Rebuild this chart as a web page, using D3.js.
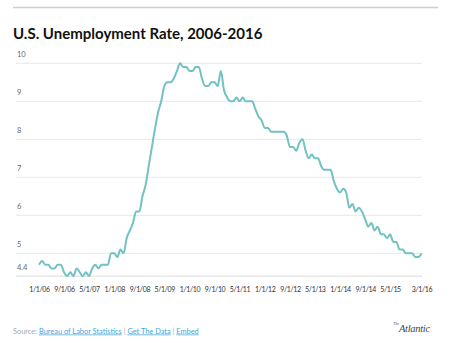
<!DOCTYPE html>
<html>
<head>
<meta charset="utf-8">
<script src="https://cdn.jsdelivr.net/npm/d3@7"></script>
<style>
  html, body { margin: 0; padding: 0; background: #fff; }
  svg { display: block; }
</style>
</head>
<body>
<svg id="chart" width="450" height="343"></svg>
<script>
// Monthly U.S. unemployment rate (seasonally adjusted), Jan 2006 – Mar 2016
const startMonth = "2006-01-01";
const rates = [
  4.7, 4.8, 4.7, 4.7, 4.6, 4.6, 4.7, 4.7, 4.5, 4.4, 4.5, 4.4,
  4.6, 4.5, 4.4, 4.5, 4.4, 4.6, 4.7, 4.6, 4.7, 4.7, 4.7, 5.0,
  5.0, 4.9, 5.1, 5.0, 5.4, 5.6, 5.8, 6.1, 6.1, 6.5, 6.8, 7.3,
  7.8, 8.3, 8.7, 9.0, 9.4, 9.5, 9.5, 9.6, 9.8, 10.0, 9.9, 9.9,
  9.8, 9.8, 9.9, 9.9, 9.6, 9.4, 9.4, 9.5, 9.5, 9.4, 9.8, 9.3,
  9.1, 9.0, 9.0, 9.1, 9.0, 9.1, 9.0, 9.0, 9.0, 8.8, 8.6, 8.5,
  8.3, 8.3, 8.2, 8.2, 8.2, 8.2, 8.2, 8.1, 7.8, 7.8, 7.7, 7.9,
  8.0, 7.7, 7.5, 7.6, 7.5, 7.5, 7.3, 7.2, 7.2, 7.2, 6.9, 6.7,
  6.6, 6.7, 6.6, 6.2, 6.3, 6.1, 6.2, 6.1, 5.9, 5.7, 5.8, 5.6,
  5.7, 5.5, 5.5, 5.4, 5.5, 5.3, 5.3, 5.1, 5.1, 5.0, 5.0, 5.0,
  4.9, 4.9, 5.0
];
const yTicks = [4.4, 5, 6, 7, 8, 9, 10];
const xTickLabels = ["1/1/06", "9/1/06", "5/1/07", "1/1/08", "9/1/08", "5/1/09",
  "1/1/10", "9/1/10", "5/1/11", "1/1/12", "9/1/12", "5/1/13", "1/1/14",
  "9/1/14", "5/1/15", "3/1/16"];

const parseDate = d3.timeParse("%Y-%m-%d");
const parseLabel = d3.timeParse("%m/%d/%y");
const t0 = parseDate(startMonth);
const data = rates.map((v, i) => ({ date: d3.timeMonth.offset(t0, i), value: v }));

const svg = d3.select("#chart");
const font = "Lato, 'Open Sans', sans-serif";

// Rule above the title
svg.append("line")
  .attr("x1", 13).attr("x2", 438).attr("y1", 7.5).attr("y2", 7.5)
  .attr("stroke", "#cfcfcf").attr("stroke-width", 1.5);

svg.append("text")
  .attr("x", 13).attr("y", 38.5)
  .attr("font-family", font).attr("font-weight", 700)
  .attr("font-size", 15).attr("fill", "#111")
  .text("U.S. Unemployment Rate, 2006-2016");

const x = d3.scaleTime()
  .domain([data[0].date, data[data.length - 1].date])
  .range([39, 421.5]);
const y = d3.scaleLinear().domain([5, 10]).range([253.3, 63.3]);

// Horizontal gridlines with labels sitting above them
const grid = svg.append("g");
yTicks.forEach(v => {
  grid.append("line")
    .attr("x1", 16).attr("x2", 422)
    .attr("y1", y(v)).attr("y2", y(v))
    .attr("stroke", v === 4.4 ? "#dcdcdc" : "#e8e8e8").attr("stroke-width", 1);
  grid.append("text")
    .attr("x", 17).attr("y", y(v) - 6)
    .attr("font-family", font).attr("font-size", 7.5).attr("fill", "#666")
    .text(v);
});

// Bottom date axis
const xAxis = d3.axisBottom(x)
  .tickValues(xTickLabels.map(s => parseLabel(s)))
  .tickFormat((d, i) => xTickLabels[i])
  .tickSize(0);
const gx = svg.append("g").attr("transform", `translate(0,${y(4.4) + 8})`).call(xAxis);
gx.select(".domain").remove();
gx.selectAll("text")
  .attr("font-family", font).attr("font-size", 7).attr("letter-spacing", -0.35)
  .attr("fill", "#333");

// Rate line
const line = d3.line()
  .x(d => x(d.date)).y(d => y(d.value))
  .curve(d3.curveMonotoneX);
svg.append("path")
  .datum(data)
  .attr("d", line)
  .attr("fill", "none")
  .attr("stroke", "#72c1c3")
  .attr("stroke-width", 2)
  .attr("stroke-linejoin", "round");

// Footer: source and links
const foot = svg.append("text")
  .attr("x", 13).attr("y", 333.5)
  .attr("font-family", font).attr("font-size", 7.4);
foot.append("tspan").attr("fill", "#aaa").text("Source: ");
foot.append("tspan").attr("fill", "#45a6dd").attr("text-decoration", "underline").text("Bureau of Labor Statistics");
foot.append("tspan").attr("fill", "#aaa").text(" | ");
foot.append("tspan").attr("fill", "#45a6dd").attr("text-decoration", "underline").text("Get The Data");
foot.append("tspan").attr("fill", "#aaa").text(" | ");
foot.append("tspan").attr("fill", "#45a6dd").attr("text-decoration", "underline").text("Embed");

// Wordmark
const serif = "'Liberation Serif', 'DejaVu Serif', serif";
svg.append("text")
  .attr("x", 393.5).attr("y", 324.5)
  .attr("font-family", serif).attr("font-style", "italic")
  .attr("font-size", 3.5).attr("fill", "#444").text("The");
svg.append("text")
  .attr("x", 399).attr("y", 332)
  .attr("font-family", serif).attr("font-style", "italic")
  .attr("font-size", 10.5).attr("fill", "#444").attr("letter-spacing", -0.3)
  .text("Atlantic");
</script>
</body>
</html>
